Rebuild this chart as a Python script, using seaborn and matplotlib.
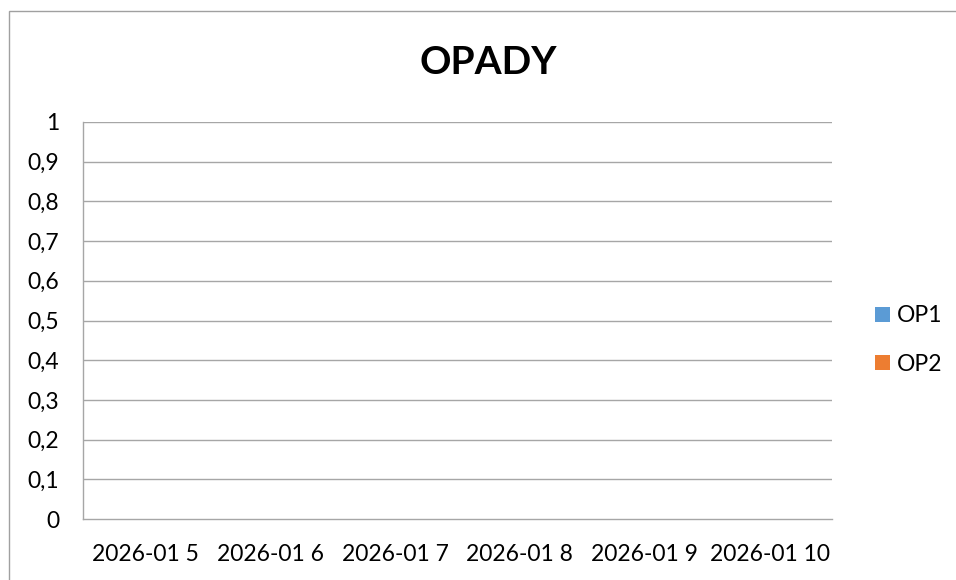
import matplotlib
matplotlib.use("Agg")
import matplotlib.pyplot as plt
import matplotlib.patches as mpatches
import seaborn as sns
import pandas as pd

categories = ["2026-01 5", "2026-01 6", "2026-01 7", "2026-01 8", "2026-01 9", "2026-01 10"]
op1 = [0, 0, 0, 0, 0, 0]
op2 = [0, 0, 0, 0, 0, 0]
series_names = ["OP1", "OP2"]
colors = ["#5b9bd5", "#ed7d31"]
yticks = [0, 0.1, 0.2, 0.3, 0.4, 0.5, 0.6, 0.7, 0.8, 0.9, 1]
title = "OPADY"

sns.set_theme(style="white")
plt.rcParams["font.family"] = ["Lato", "DejaVu Sans"]
plt.rcParams["text.color"] = "black"
plt.rcParams["xtick.color"] = "black"
plt.rcParams["ytick.color"] = "black"

df = pd.DataFrame({
    "cat": categories * 2,
    "val": op1 + op2,
    "series": [series_names[0]] * len(categories) + [series_names[1]] * len(categories),
})

W, H = 956, 580
fig = plt.figure(figsize=(W / 100, H / 100), dpi=100)
ax = fig.add_axes([83 / W, 1 - 519 / H, (832 - 83) / W, (519 - 122) / H])

sns.barplot(data=df, x="cat", y="val", hue="series", palette=colors, ax=ax,
            legend=False, order=categories)

grid_c = "#a6a6a6"
fs = 16.5
ax.set_ylim(0, 1)
ax.set_xlim(-0.5, len(categories) - 0.5)
ax.set_yticks(yticks)
ax.set_yticklabels([("%g" % v).replace(".", ",") for v in yticks], fontsize=fs, color="black")
ax.set_xticks(range(len(categories)))
ax.set_xticklabels(categories, fontsize=fs, color="black")
ax.set_xticks([i - 0.5 for i in range(len(categories) + 1)], minor=True)
ax.tick_params(axis="x", which="major", length=0, pad=18, labelcolor="black")
ax.tick_params(axis="x", which="minor", length=8, width=1, color=grid_c, direction="out")
ax.tick_params(axis="y", which="major", length=7, width=1, color=grid_c, direction="out", pad=10,
               labelcolor="black")
ax.set_xlabel("")
ax.set_ylabel("")
for v in yticks[1:]:
    ax.axhline(v, color=grid_c, lw=1, zorder=0)
for s in ["top", "right"]:
    ax.spines[s].set_visible(False)
for s in ["left", "bottom"]:
    ax.spines[s].set_color(grid_c)
    ax.spines[s].set_linewidth(1)

fig.text(488 / W, 1 - 62 / H, title, fontsize=28, fontweight="bold", ha="center", va="center",
         color="black")

handles = [mpatches.Patch(facecolor=c, edgecolor="none", label=n) for c, n in zip(colors, series_names)]
leg = fig.legend(handles=handles, loc="center left", bbox_to_anchor=(875 / W, 1 - 340 / H),
                 frameon=False, fontsize=fs, handlelength=0.65, handleheight=0.65,
                 handletextpad=0.3, labelspacing=1.2, borderpad=0, borderaxespad=0)
for t in leg.get_texts():
    t.set_color("black")

border = mpatches.Rectangle((8.5 / W, -0.1), 1.2, 1 - 10.5 / H + 0.1, transform=fig.transFigure,
                            fill=False, edgecolor="#a0a0a0", lw=1)
fig.patches.append(border)

fig.savefig("out.png", dpi=100)
